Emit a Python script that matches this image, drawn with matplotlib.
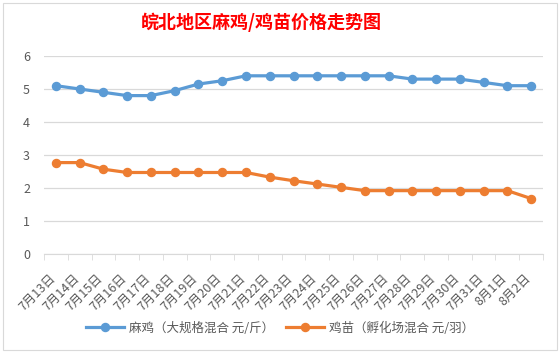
import matplotlib
matplotlib.use("Agg")
import matplotlib.pyplot as plt
from matplotlib.patches import Rectangle
from matplotlib.transforms import ScaledTranslation
import numpy as np

plt.rcParams['font.family'] = ['Noto Sans CJK SC', 'DejaVu Sans']

# data
dates = ["7月13日", "7月14日", "7月15日", "7月16日", "7月17日", "7月18日", "7月19日",
         "7月20日", "7月21日", "7月22日", "7月23日", "7月24日", "7月25日", "7月26日",
         "7月27日", "7月28日", "7月29日", "7月30日", "7月31日", "8月1日", "8月2日"]
maji = [5.1, 5.0, 4.9, 4.8, 4.8, 4.95, 5.15, 5.25, 5.4, 5.4, 5.4, 5.4, 5.4, 5.4,
        5.4, 5.3, 5.3, 5.3, 5.2, 5.1, 5.1]
jimiao = [2.77, 2.77, 2.57, 2.47, 2.47, 2.47, 2.47, 2.47, 2.47, 2.33, 2.22, 2.12,
          2.02, 1.92, 1.92, 1.92, 1.92, 1.92, 1.92, 1.92, 1.68]

blue = "#5b9bd5"
orange = "#ed7d31"
gray = "#595959"

fig = plt.figure(figsize=(5.6, 3.54), dpi=100)
fig.patches.append(Rectangle((3 / 560, 4 / 354), 554 / 560, 347 / 354, transform=fig.transFigure,
                             fill=False, edgecolor="#d9d9d9", lw=0.8))
ax = fig.add_axes([44 / 560, 1 - 254 / 354, 499 / 560, 198 / 354])

x = np.arange(len(dates))
ax.plot(x, maji, color=blue, lw=2.3, marker="o", ms=5.8, label="麻鸡（大规格混合 元/斤）")
ax.plot(x, jimiao, color=orange, lw=2.3, marker="o", ms=5.8, label="鸡苗（孵化场混合 元/羽）")

ax.set_xlim(-0.5, len(dates) - 0.5)
ax.set_ylim(0, 6)
ax.set_yticks(range(7))
ax.grid(axis="y", color="#d9d9d9", lw=0.9)
ax.set_axisbelow(True)
for s in ["top", "right", "left"]:
    ax.spines[s].set_visible(False)
ax.spines["bottom"].set_color("#d9d9d9")
ax.tick_params(axis="y", length=0, labelsize=9, labelcolor=gray, pad=10)

ax.set_xticks(x)
ax.set_xticklabels(dates, rotation=45, ha="right", rotation_mode="anchor", fontsize=9, color=gray)
ax.tick_params(axis="x", which="major", length=0, pad=13)
# shift the rotated labels a little to the left, like the original
shift = ScaledTranslation(-7 / 100, 0, fig.dpi_scale_trans)
for lab in ax.get_xticklabels():
    lab.set_transform(lab.get_transform() + shift)
ax.set_xticks(np.arange(-0.5, len(dates)), minor=True)
ax.tick_params(axis="x", which="minor", length=4, color="#d9d9d9")

fig.text(0.466, 1 - 22 / 354, "皖北地区麻鸡/鸡苗价格走势图", color="red", fontsize=13,
         fontweight="bold", ha="center", va="center")

fig.legend(loc="center", bbox_to_anchor=(0.5, 1 - 328 / 354), ncol=2, frameon=False,
           fontsize=9, labelcolor=gray, handlelength=3, columnspacing=1.0, handletextpad=0.4)

fig.savefig("out.png", dpi=100)
